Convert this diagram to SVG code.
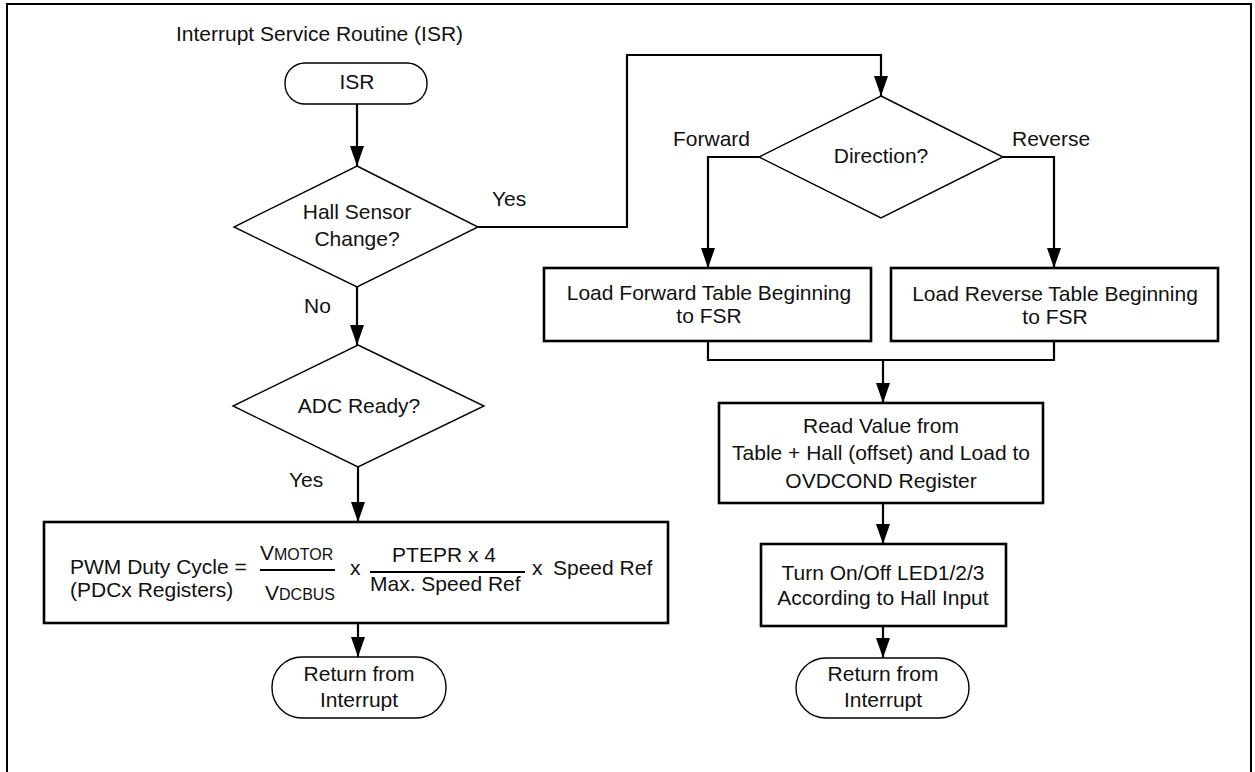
<svg xmlns="http://www.w3.org/2000/svg" width="1255" height="772" viewBox="0 0 1255 772">
<defs>
<marker id="arr" markerUnits="userSpaceOnUse" markerWidth="22" markerHeight="14" refX="20" refY="7" orient="auto" viewBox="0 0 22 14">
<path d="M0,0 L20,7 L0,14 z" fill="#000"/>
</marker>
<style>
text{font-family:"Liberation Sans",Arial,sans-serif;font-size:21px;fill:#111}
.c{text-anchor:middle}
.box{fill:#fff;stroke:#000;stroke-width:2.6}
.dia{fill:#fff;stroke:#000;stroke-width:1.4}
.term{fill:#fff;stroke:#000;stroke-width:1.4}
.con{fill:none;stroke:#000;stroke-width:2.2}
.sm{font-size:16px}
</style>
</defs>
<rect width="1255" height="772" fill="#fff"/>
<path d="M7,780 V4 H1251 V780" fill="none" stroke="#000" stroke-width="2"/>
<text x="176" y="41">Interrupt Service Routine (ISR)</text>

<g id="connectors">
<path class="con" d="M357,104 V166" marker-end="url(#arr)"/>
<path class="con" d="M357,287 V345" marker-end="url(#arr)"/>
<path class="con" d="M358,467 V522" marker-end="url(#arr)"/>
<path class="con" d="M358,623 V657" marker-end="url(#arr)"/>
<path class="con" d="M478,227 H627 V55 H881 V96" marker-end="url(#arr)"/>
<path class="con" d="M759,157 H708 V268" marker-end="url(#arr)"/>
<path class="con" d="M1003,157 H1054 V268" marker-end="url(#arr)"/>
<path class="con" d="M708,341 V360 H1054 V341"/>
<path class="con" d="M883,360 V403" marker-end="url(#arr)"/>
<path class="con" d="M883,503 V544" marker-end="url(#arr)"/>
<path class="con" d="M883,626 V658" marker-end="url(#arr)"/>
<text x="492" y="206">Yes</text>
<text x="304" y="313">No</text>
<text x="289" y="487">Yes</text>
<text x="673" y="146">Forward</text>
<text x="1012" y="146">Reverse</text>
</g>

<g id="isr">
<rect class="term" x="285" y="63" width="142" height="41" rx="20" ry="20"/>
<text class="c" x="357" y="89">ISR</text>
</g>

<g id="hall">
<polygon class="dia" points="357,166 478,227 357,287 234,227"/>
<text class="c" x="357" y="219">Hall Sensor</text>
<text class="c" x="357" y="246">Change?</text>
</g>

<g id="adc">
<polygon class="dia" points="358,345 484,406 358,467 233,406"/>
<text class="c" x="359" y="413">ADC Ready?</text>
</g>

<g id="pwm">
<rect class="box" x="44" y="522" width="624" height="101"/>
<text x="70" y="574">PWM Duty Cycle =</text>
<text x="70" y="597">(PDCx Registers)</text>
<text x="260" y="560">V<tspan class="sm">MOTOR</tspan></text>
<line x1="260" y1="570" x2="335" y2="570" stroke="#000" stroke-width="2"/>
<text x="265" y="600">V<tspan class="sm">DCBUS</tspan></text>
<text x="350" y="575">x</text>
<text class="c" x="444" y="562">PTEPR x 4</text>
<line x1="370" y1="572" x2="525" y2="572" stroke="#000" stroke-width="2"/>
<text x="370" y="591">Max. Speed Ref</text>
<text x="532" y="575">x</text>
<text x="553" y="575">Speed Ref</text>
</g>

<g id="return-left">
<rect class="term" x="272" y="657" width="174" height="61" rx="30" ry="30"/>
<text class="c" x="359" y="681">Return from</text>
<text class="c" x="359" y="707">Interrupt</text>
</g>

<g id="direction">
<polygon class="dia" points="881,96 1003,157 881,218 759,157"/>
<text class="c" x="881" y="163">Direction?</text>
</g>

<g id="load-forward">
<rect class="box" x="544" y="268" width="327" height="73"/>
<text class="c" x="709" y="300">Load Forward Table Beginning</text>
<text class="c" x="709" y="323">to FSR</text>
</g>

<g id="load-reverse">
<rect class="box" x="891" y="268" width="327" height="73"/>
<text class="c" x="1055" y="301">Load Reverse Table Beginning</text>
<text class="c" x="1055" y="324">to FSR</text>
</g>

<g id="read-value">
<rect class="box" x="719" y="403" width="324" height="100"/>
<text class="c" x="881" y="433">Read Value from</text>
<text class="c" x="881" y="460">Table + Hall (offset) and Load to</text>
<text class="c" x="881" y="488">OVDCOND Register</text>
</g>

<g id="turn-led">
<rect class="box" x="761" y="544" width="245" height="82"/>
<text class="c" x="883" y="580">Turn On/Off LED1/2/3</text>
<text class="c" x="883" y="605">According to Hall Input</text>
</g>

<g id="return-right">
<rect class="term" x="796" y="658" width="173" height="60" rx="30" ry="30"/>
<text class="c" x="883" y="681">Return from</text>
<text class="c" x="883" y="707">Interrupt</text>
</g>
</svg>
